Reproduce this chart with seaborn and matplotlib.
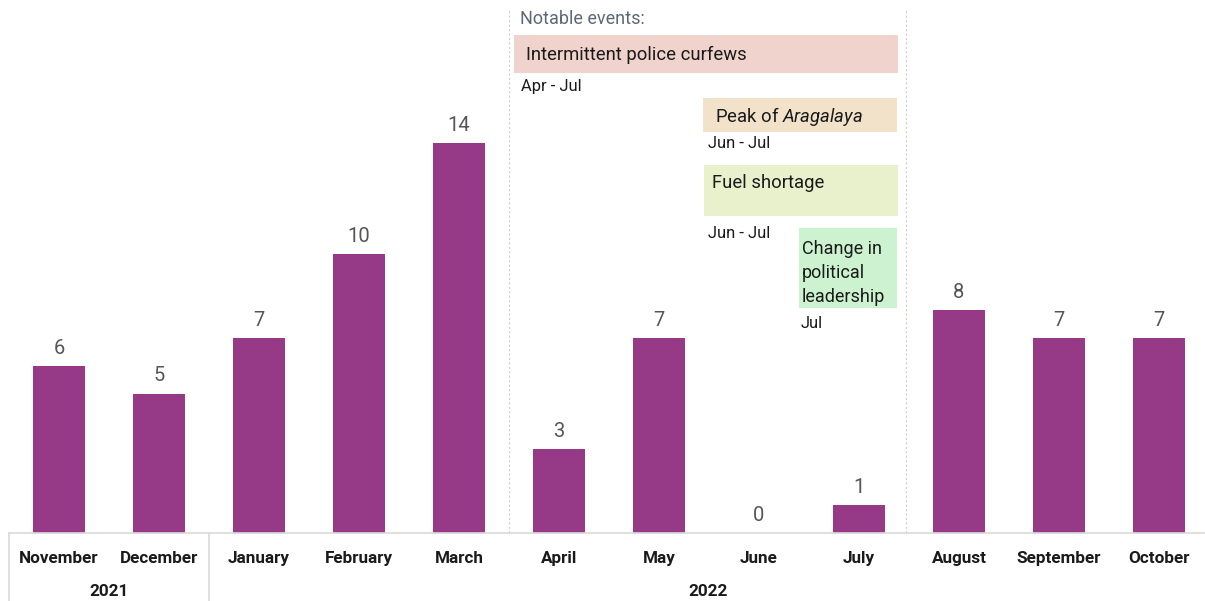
import matplotlib
matplotlib.use("Agg")
import matplotlib.pyplot as plt
from matplotlib.patches import Rectangle
from matplotlib.lines import Line2D
import seaborn as sns
import pandas as pd

months = ["November", "December", "January", "February", "March", "April",
          "May", "June", "July", "August", "September", "October"]
counts = [6, 5, 7, 10, 14, 3, 7, 0, 1, 8, 7, 7]
years = ["2021", "2022"]

event_names = ["Intermittent police curfews", "Peak of $\\mathit{Aragalaya}$",
               "Fuel shortage", "Change in\npolitical\nleadership"]
event_periods = ["Apr - Jul", "Jun - Jul", "Jun - Jul", "Jul"]
event_colors = ["#f0d3cd", "#f2e2c9", "#e8f1cc", "#cdf2d0"]

BAR = "#963a87"
GRID = "#d9d9d9"
W, H = 1205, 601

sns.set_theme(style="white")
plt.rcParams["font.family"] = ["Roboto", "DejaVu Sans"]
plt.rcParams["mathtext.fontset"] = "custom"
plt.rcParams["mathtext.it"] = "Roboto:italic"
plt.rcParams["mathtext.rm"] = "Roboto"

df = pd.DataFrame({"month": months, "count": counts})

fig = plt.figure(figsize=(W / 100, H / 100), dpi=100)
ax = fig.add_axes([9 / W, 1 - 533 / H, 1 - 9 / W, 533 / H])
sns.barplot(data=df, x="month", y="count", color=BAR, width=0.52,
            saturation=1, linewidth=0, ax=ax)
ax.set_xlim(-0.5, 11.46)
ax.set_ylim(0, 533 / 27.86)
ax.set_xlabel("")
ax.set_ylabel("")
ax.set_yticks([])
for s in ["top", "right", "left"]:
    ax.spines[s].set_visible(False)
ax.spines["bottom"].set_color(GRID)
ax.spines["bottom"].set_linewidth(1.2)
ax.tick_params(axis="x", length=0, pad=13)
ax.set_xticks(range(len(months)))
ax.set_xticklabels(months, fontsize=12.3, fontweight="bold", color="#1a1a1a")

for i, v in enumerate(counts):
    ax.annotate(str(v), (i, v), xytext=(0, 6), textcoords="offset points",
                ha="center", va="bottom", fontsize=14.5, color="#555555")

# dashed guides around the event period
for xv in [4.5, 8.47]:
    ax.plot([xv, xv], [0, (533 - 10) / 27.86], ls=(0, (2, 2)), lw=0.8,
            color="#cfcfcf", zorder=0)


def px(x, y):
    return x / W, 1 - y / H


# separators and year labels below the axis
for x in [9, 209]:
    fig.add_artist(Line2D([x / W, x / W], [0, 1 - 533 / H], color=GRID, lw=1.2))
fig.text(*px(109, 591), years[0], ha="center", va="center", fontsize=12.3,
         fontweight="bold", color="#1a1a1a")
fig.text(*px(708, 591), years[1], ha="center", va="center", fontsize=12.3,
         fontweight="bold", color="#1a1a1a")

fig.text(*px(520, 19), "Notable events:", ha="left", va="center",
         fontsize=13, color="#5c6878")

boxes = [(514, 35, 898, 73), (703, 98, 897, 132), (704, 165, 898, 216),
         (799, 228, 897, 308)]
text_pos = [(526, 55), (715, 116), (712, 183), (802, 248)]
period_pos = [(521, 86), (708, 143), (708, 233), (801, 323)]

for (x0, y0, x1, y1), (tx, ty), (qx, qy), name, per, col in zip(
        boxes, text_pos, period_pos, event_names, event_periods, event_colors):
    fx, fy = px(x0, y1)
    fig.patches.append(Rectangle((fx, fy), (x1 - x0) / W, (y1 - y0) / H,
                                 transform=fig.transFigure, facecolor=col,
                                 edgecolor="none", zorder=0))
    if "\n" in name:
        fig.text(*px(tx, ty - 8), name, ha="left", va="top", fontsize=13,
                 color="#1a1a1a", linespacing=1.42)
    else:
        fig.text(*px(tx, ty), name, ha="left", va="center", fontsize=13.3,
                 color="#1a1a1a")
    fig.text(*px(qx, qy), per, ha="left", va="center", fontsize=12,
             color="#1a1a1a")

fig.savefig("out.png", dpi=100)
